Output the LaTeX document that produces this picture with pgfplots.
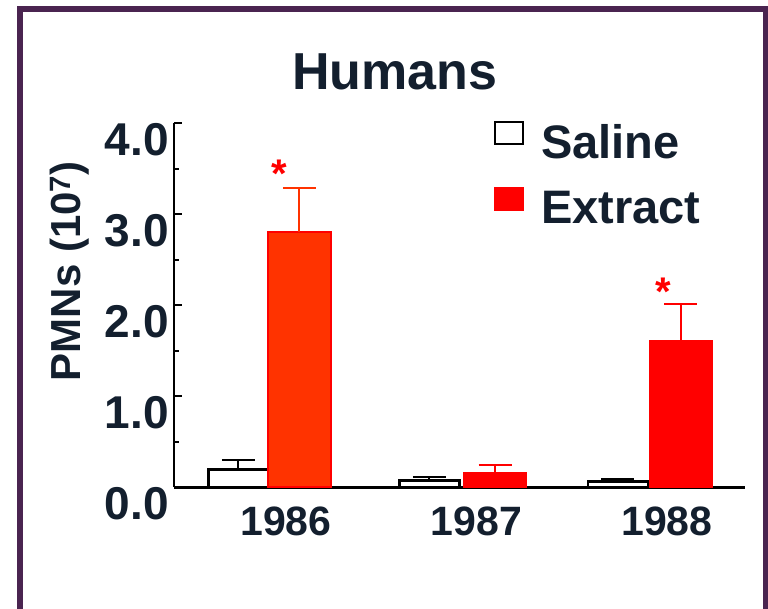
\documentclass[border=0pt]{standalone}
\usepackage{pgfplots}
\pgfplotsset{compat=1.18}
\usepackage{fontspec}
\setmainfont{Liberation Sans}
\definecolor{navy}{HTML}{131F2E}
\definecolor{framepurple}{HTML}{4A2450}
\definecolor{exred}{HTML}{FF0000}
\definecolor{exorange}{HTML}{FF3300}
\newcommand\fs[1]{\fontsize{#1}{#1}\selectfont}
\begin{document}
\begin{tikzpicture}
\useasboundingbox (-174pt,-121pt) rectangle (594pt,487pt);
\draw[framepurple, line width=6pt] (-154pt,-200pt) -- (-154pt,478pt) -- (592pt,478pt) -- (592pt,-200pt);
\begin{axis}[
  scale only axis, width=571pt, height=364pt,
  xmin=-0.493, xmax=2.504, ymin=0, ymax=4,
  axis lines*=left,
  x axis line style={line width=3pt, black},
  y axis line style={line width=2pt, black},
  xtick={0,1,2}, xticklabels={1986,1987,1988},
  xtick style={draw=none},
  xticklabel style={font=\bfseries\fs{41}, text=navy, xshift=18pt, inner sep=0pt, yshift=-20pt},
  ytick={0,1,2,3,4}, yticklabels={0.0,1.0,2.0,3.0,4.0},
  minor ytick={0.5,1.5,2.5,3.5},
  ytick style={line width=2pt, black},
  tick align=inside,
  major tick length=8pt, minor tick length=5pt,
  yticklabel style={font=\bfseries\fs{46}, text=navy, inner sep=0pt, xshift=-5pt, yshift=-17pt},
  title={Humans},
  title style={font=\bfseries\fs{52}, text=navy, at={(axis description cs:0.387,1.0742)}, anchor=base, inner sep=0pt},
  ylabel={PMNs (10\textsuperscript{7})},
  ylabel style={font=\bfseries\fs{42}, text=navy, at={(axis description cs:-0.1646,0.593)}, anchor=base, inner sep=0pt},
  legend image code/.code={\draw[#1, line width=2pt] (0pt,-2pt) rectangle (28pt,20pt);},
  legend style={draw=none, fill=none, at={(axis description cs:0.5552,1.011)}, anchor=north west,
    nodes={inner sep=0pt, font=\bfseries\fs{47}, text=navy}, row sep=27pt, column sep=17pt},
  legend cell align=left,
  clip=false,
]
\addplot[ybar, bar width=60pt, bar shift=0pt, draw=black, fill=white, line width=2.5pt,
  error bars/.cd, y dir=plus, y explicit,
  error bar style={line width=2pt, black},
  error mark options={black, line width=2pt, mark size=16.5pt, rotate=90}]
  coordinates {(-0.155,0.19) +- (0,0.11) (0.848,0.07) +- (0,0.045) (1.837,0.06) +- (0,0.033)};
\addlegendentry{Saline}
\addplot[ybar, bar width=63pt, bar shift=0pt, draw=exred, fill=exred, line width=1.5pt,
  error bars/.cd, y dir=plus, y explicit,
  error bar style={line width=2pt, exred},
  error mark options={exred, line width=2pt, mark size=16.5pt, rotate=90}]
  coordinates {(1.192,0.16) +- (0,0.08) (2.168,1.61) +- (0,0.40)};
\addlegendentry{Extract}
\addplot[forget plot, ybar, bar width=63pt, bar shift=0pt, draw=exred, fill=exorange, line width=1.5pt,
  error bars/.cd, y dir=plus, y explicit,
  error bar style={line width=2pt, exorange},
  error mark options={exorange, line width=2pt, mark size=16.5pt, rotate=90}]
  coordinates {(0.165,2.80) +- (0,0.49)};
\addplot[forget plot, draw=none, mark=none, nodes near coords={*},
  nodes near coords style={anchor=center, text=exred, font=\bfseries\fs{40}, inner sep=0pt}]
  coordinates {(0.058,3.44) (2.073,2.15)};
\end{axis}
\end{tikzpicture}
\end{document}
